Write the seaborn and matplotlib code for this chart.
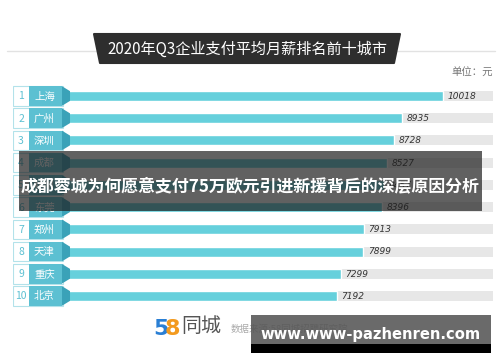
import matplotlib
matplotlib.use("Agg")
import matplotlib.pyplot as plt
from matplotlib.patches import Polygon, Rectangle
import seaborn as sns
import pandas as pd

# ---- data ----
ranks = ["1", "2", "3", "4", "5", "6", "7", "8", "9", "10"]
cities = ["上海", "广州", "深圳", "成都", "杭州", "东莞", "郑州", "天津", "重庆", "北京"]
salaries = [10018, 8935, 8728, 8527, 8457, 8396, 7913, 7899, 7299, 7192]
track_max = 11360
title = "2020年Q3企业支付平均月薪排名前十城市"
unit_label = "单位：元"
overlay_text = "成都蓉城为何愿意支付75万欧元引进新援背后的深层原因分析"
source_text = "数据来源:58同城招聘研究院"
watermark = "www.www-pazhenren.com"

sns.set_theme(style="white")
plt.rcParams["font.family"] = ["Noto Sans CJK SC", "DejaVu Sans"]

W, H = 500, 362
fig = plt.figure(figsize=(5, 3.62), dpi=100)
fig.patch.set_facecolor("white")

ax = fig.add_axes([13 / W, 1 - 308.2 / H, 480 / W, 224.4 / H])
df = pd.DataFrame({"city": cities, "salary": salaries})

BAR = "#66d0dc"
TAB = "#5cc0d2"
DARK = "#3aa2b8"
bar_h = 0.45

sns.barplot(data=df, x="salary", y="city", orient="h", color=BAR,
            width=bar_h, saturation=1, ax=ax, zorder=3)
ax.barh(range(len(cities)), [track_max] * len(cities), height=bar_h,
        color="#e7e7e7", zorder=1, linewidth=0)

ax.set_xlim(-1440, track_max)
ax.set_ylim(len(cities) - 0.45, -0.55)
ax.axis("off")

px = 26.67  # data units per pixel horizontally
def xd(p):
    return -1440 + (p - 13) * px

th = 0.44
for i, (r, c, v) in enumerate(zip(ranks, cities, salaries)):
    ax.add_patch(Rectangle((xd(13), i - th), xd(63) - xd(13), 2 * th,
                           facecolor="white", edgecolor="#b3e2ea", lw=0.8, zorder=4))
    ax.add_patch(Rectangle((xd(29), i - th), xd(62) - xd(29), 2 * th,
                           facecolor=TAB, edgecolor="none", zorder=5))
    ax.add_patch(Polygon([(xd(62), i - th), (xd(70), i - 0.22), (xd(70), i + 0.22),
                          (xd(62), i + th)], closed=True, facecolor=DARK,
                         edgecolor="none", zorder=5))
    ax.text(xd(21), i + 0.02, r, ha="center", va="center", color=TAB,
            fontsize=7.5, zorder=6)
    ax.text(xd(34), i + 0.02, c, ha="left", va="center", color="white",
            fontsize=7.5, zorder=6)
    ax.text(v + 130, i + 0.02, str(v), ha="left", va="center", color="#333333",
            fontsize=6.5, style="italic", zorder=6, family="DejaVu Sans")

ov = fig.add_axes([0, 0, 1, 1], facecolor="none")
ov.set_xlim(0, W)
ov.set_ylim(H, 0)
ov.axis("off")

ov.plot([7, 495], [51, 51], color="#e2e2e2", lw=1, zorder=1)
ov.add_patch(Polygon([(94, 34), (400, 34), (394, 63), (100, 63)], closed=True,
                     facecolor="#2e2e2e", edgecolor="#2e2e2e", lw=1.5,
                     joinstyle="round", zorder=2))
ov.text(247, 49, title, ha="center", va="center", color="white",
        fontsize=10.9, fontweight="medium", zorder=3)
ov.text(493, 73, unit_label, ha="right", va="center", color="#777777",
        fontsize=7.5)

ov.add_patch(Rectangle((19, 151), 463, 60, facecolor="#1e1e1e", alpha=0.7,
                       edgecolor="none", zorder=5))
ov.text(250, 186, overlay_text, ha="center", va="center", color="white",
        fontsize=12.2, fontweight="bold", zorder=6)

ov.text(153, 329, "5", ha="left", va="center", color="#2a7fd4", fontsize=16,
        fontweight="bold", family="DejaVu Sans")
ov.text(165, 329, "8", ha="left", va="center", color="#f39a1e", fontsize=16,
        fontweight="bold", family="DejaVu Sans")
ov.text(181, 327, "同城", ha="left", va="center", color="#555555", fontsize=14.4)
ov.text(231, 329, source_text, ha="left", va="center", color="#aaaaaa",
        fontsize=6.8)

ov.add_patch(Rectangle((251, 315), 240, 29, facecolor="#555555", alpha=0.88,
                       edgecolor="none", zorder=7))
ov.add_patch(Rectangle((251, 344), 240, 9, facecolor="black",
                       edgecolor="none", zorder=7))
ov.text(371, 335, watermark, ha="center", va="center", color="white",
        fontsize=10.6, fontweight="bold", family="DejaVu Sans", zorder=8)

fig.savefig("out.png", dpi=100)
